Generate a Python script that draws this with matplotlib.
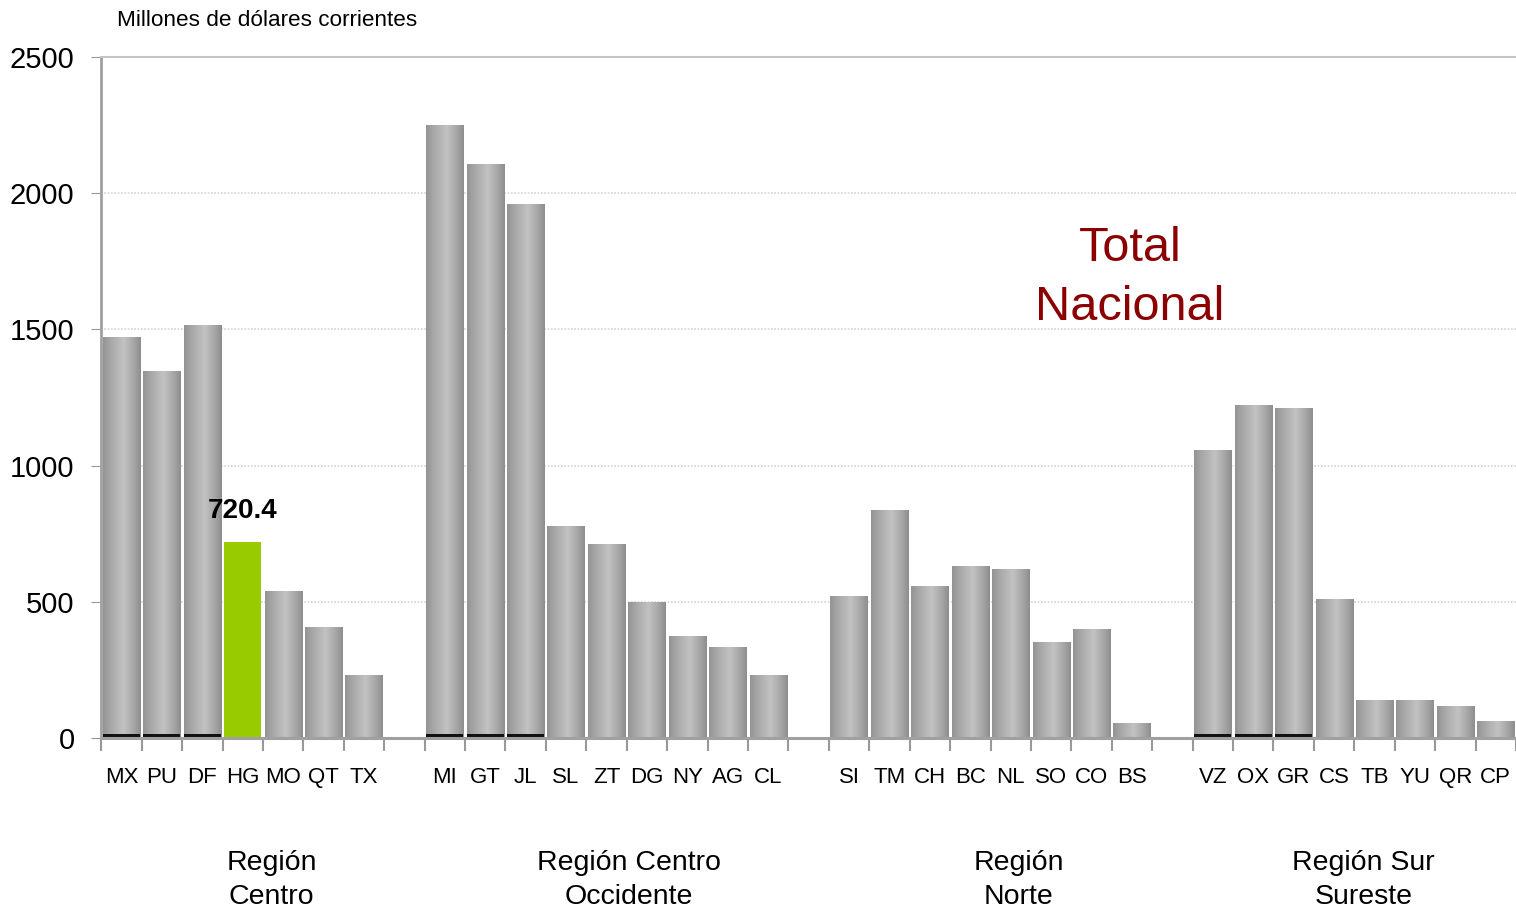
import numpy as np
import matplotlib.pyplot as plt
from matplotlib.colors import LinearSegmentedColormap
import matplotlib.transforms as mtransforms

# Data (None = empty gap slot between regions)
labels = ["MX", "PU", "DF", "HG", "MO", "QT", "TX", "",
          "MI", "GT", "JL", "SL", "ZT", "DG", "NY", "AG", "CL", "",
          "SI", "TM", "CH", "BC", "NL", "SO", "CO", "BS", "",
          "VZ", "OX", "GR", "CS", "TB", "YU", "QR", "CP"]
values = [1472, 1344, 1516, 720.4, 536, 407, 228, None,
          2247, 2104, 1960, 778, 709, 499, 371, 334, 228, None,
          521, 837, 558, 628, 620, 349, 400, 55, None,
          1057, 1222, 1208, 507, 139, 139, 114, 62]
# small dark base segment seen at the foot of some bars
base = [14, 14, 14, 0, 0, 0, 0, None,
        14, 14, 14, 0, 0, 0, 0, 0, 0, None,
        0, 0, 0, 0, 0, 0, 0, 0, None,
        14, 14, 14, 0, 0, 0, 0, 0]
highlight = "HG"
regions = ["Región\nCentro", "Región Centro\nOccidente", "Región\nNorte", "Región Sur\nSureste"]
region_x = [3.71, 12.55, 22.2, 30.73]

plt.rcParams['font.family'] = ["Liberation Sans", "DejaVu Sans"]

fig = plt.figure(figsize=(15.16, 9.09), dpi=100)
ax = fig.add_axes([101/1516, 1 - 738/909, 1 - 101/1516, (738 - 57)/909])

grad = LinearSegmentedColormap.from_list(
    "cyl", [(0.0, "#949494"), (0.18, "#a6a6a6"), (0.55, "#c2c2c2"),
            (0.85, "#a2a2a2"), (1.0, "#8e8e8e")])
gimg = np.linspace(0, 1, 64).reshape(1, -1)
bw = 0.92

for i, (lab, v) in enumerate(zip(labels, values)):
    if v is None:
        continue
    x0 = i - bw / 2
    if lab == highlight:
        ax.bar(i, v, width=bw, color="#99cc00", zorder=3)
        ax.annotate(f"{v}", (i, v), xytext=(0, 13), textcoords="offset points",
                    ha="center", va="bottom", fontsize=20, fontweight="bold")
    else:
        ax.imshow(gimg, cmap=grad, extent=[x0, x0 + bw, 0, v], aspect="auto",
                  interpolation="bilinear", zorder=3)
    if base[i]:
        ax.bar(i, base[i], width=bw, color="#111111", zorder=4)

n = len(labels)
ax.set_xlim(-0.506, 34.41)
ax.set_ylim(0, 2500)
ax.set_yticks([0, 500, 1000, 1500, 2000, 2500])
ax.set_yticklabels(["0", "500", "1000", "1500", "2000", "2500"], fontsize=21)
ax.tick_params(axis="y", length=7, color="#999999", pad=12)

ax.set_xticks(np.arange(n + 1) - 0.5)
ax.set_xticklabels([])
ax.tick_params(axis="x", which="major", length=9, width=1.5, color="#999999")
ax.set_xticks(np.arange(n), minor=True)
ax.set_xticklabels(labels, minor=True, fontsize=16)
ax.tick_params(axis="x", which="minor", length=0, pad=21)

ax.yaxis.grid(True, linestyle=(0, (1, 1)), color="#d4d4d4", linewidth=1.2, zorder=0)
ax.set_axisbelow(True)
ax.spines["right"].set_visible(False)
ax.spines["top"].set_color("#c4c4c4")
ax.spines["top"].set_linewidth(1.5)
ax.spines["left"].set_color("#a0a0a0")
ax.spines["left"].set_linewidth(2)
ax.spines["bottom"].set_color("#a0a0a0")
ax.spines["bottom"].set_linewidth(2.2)
ax.spines["bottom"].set_zorder(5)

trans = mtransforms.blended_transform_factory(ax.transData, fig.transFigure)
for rx, rl in zip(region_x, regions):
    fig.text(rx, 1 - 880/909, rl, transform=trans, ha="center", va="center",
             fontsize=20.5, linespacing=1.45)

fig.text(1130/1516, 1 - 278/909, "Total\nNacional", ha="center", va="center",
         fontsize=35, color="#8b0000", linespacing=1.42)
fig.text(117/1516, 1 - 21/909, "Millones de dólares corrientes", ha="left", va="center",
         fontsize=16.2)

fig.savefig("out.png", dpi=100)
